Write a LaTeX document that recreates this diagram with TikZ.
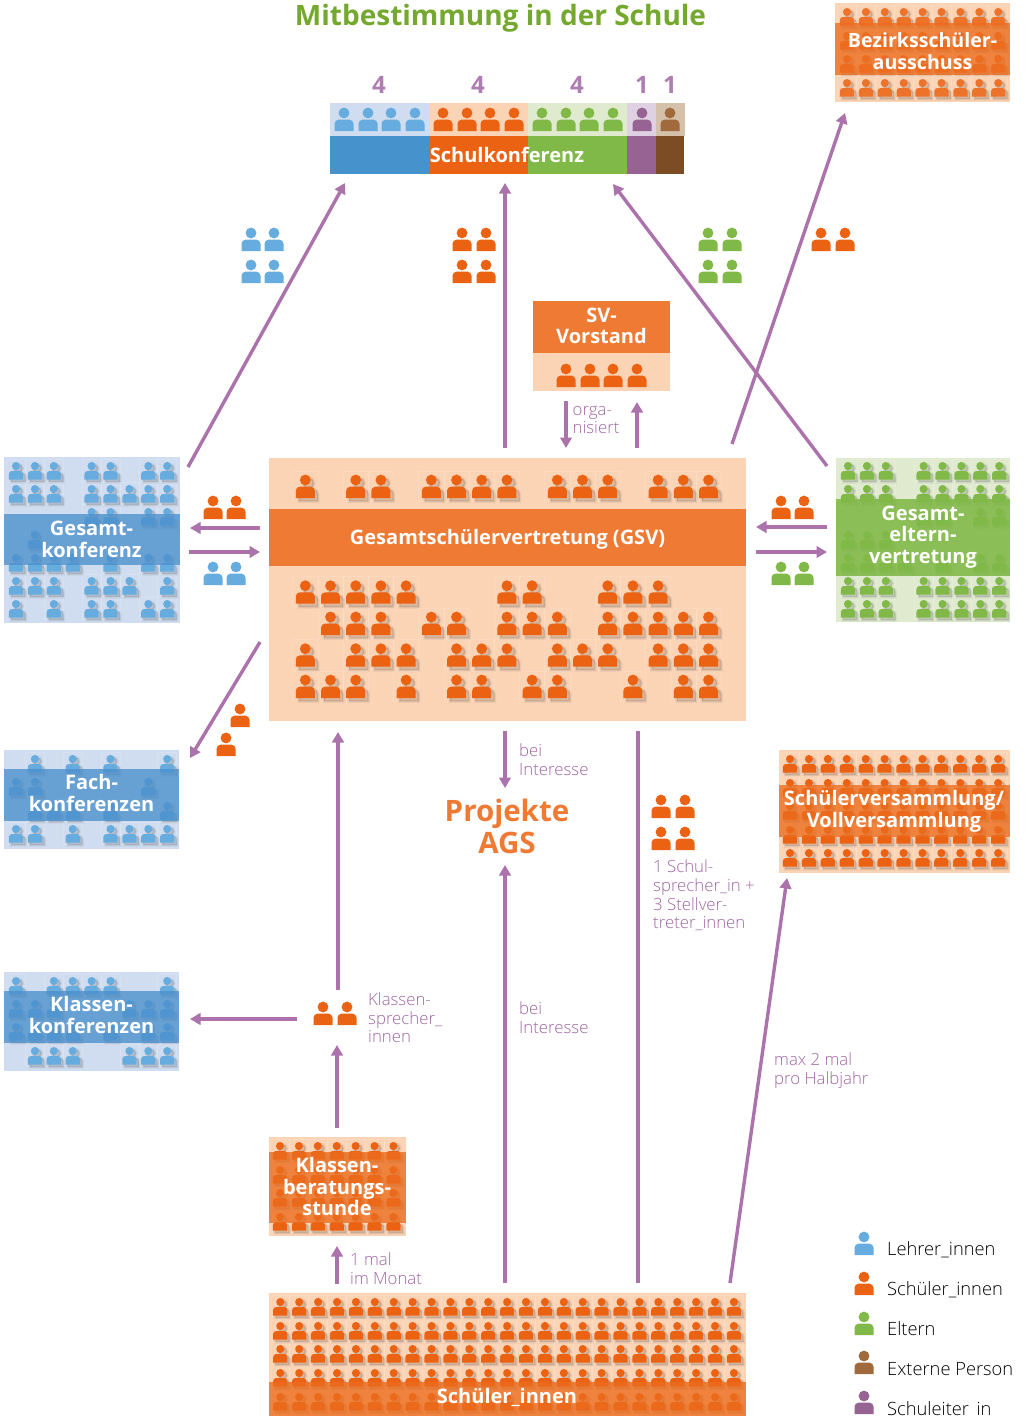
\documentclass[tikz,border=0pt]{standalone}
\usepackage{fontspec}
\setmainfont{Open Sans}
\newfontfamily\lightf{Open Sans Light}
\usetikzlibrary{arrows.meta}
\definecolor{pu}{HTML}{AB72AC}
\definecolor{putext}{HTML}{A066A3}
\definecolor{or}{HTML}{EB6213}
\definecolor{orband}{HTML}{EE7A33}
\definecolor{orover}{HTML}{EC6C1C}
\definecolor{orlight}{HTML}{FBD3B5}
\definecolor{bl}{HTML}{66ACDE}
\definecolor{blband}{HTML}{4A8FCB}
\definecolor{bldark}{HTML}{4592CC}
\definecolor{bllight}{HTML}{D0DDF0}
\definecolor{gr}{HTML}{80B947}
\definecolor{grband}{HTML}{80B947}
\definecolor{grlight}{HTML}{DFEACF}
\definecolor{vi}{HTML}{966392}
\definecolor{vilight}{HTML}{E0D1E2}
\definecolor{br}{HTML}{A06A3C}
\definecolor{brdark}{HTML}{7C4D24}
\definecolor{brlight}{HTML}{D5C0AA}
\definecolor{titlegreen}{HTML}{74A82E}
\def\pshape{(0,0) circle[radius=5.4] (-9.5,18) -- (-9.5,10.7) .. controls (-9.5,8.4) and (-7.6,6.7) .. (-5.5,6.7) -- (5.5,6.7) .. controls (7.6,6.7) and (9.5,8.4) .. (9.5,10.7) -- (9.5,18) -- cycle}
% plain person: x, y of head centre, scale, colour
\newcommand{\person}[4]{\begin{scope}[shift={(#1,#2)},scale=#3]\fill[#4] \pshape;\end{scope}}
% person in a crowd, with soft shadow and a faint cell
\newcommand{\crowdperson}[4]{\begin{scope}[shift={(#1,#2)},scale=#3]
  \draw[white,opacity=.13,line width=.6pt] (-12.6,-9) rectangle (12.6,21);
  \begin{scope}[shift={(3.2,3.2)}]\path[fill=black,draw=black,line width=3.2pt,opacity=.05] \pshape;\path[fill=black,draw=black,line width=1.2pt,opacity=.07] \pshape;\end{scope}
  \fill[#4] \pshape;\end{scope}}
% row: x0, dx, y, scale, colour, list of columns
\newcommand{\crowdrow}[6]{\foreach \cc in {#6}{\pgfmathsetmacro\xx{#1+#2*\cc}\crowdperson{\xx}{#3}{#4}{#5}}}
% rectangle node: name, x1, y1, x2, y2, style
\newcommand{\panel}[6]{\pgfmathsetmacro\pw{#4-#2}\pgfmathsetmacro\ph{#5-#3}\pgfmathsetmacro\pcx{(#2+#4)/2}\pgfmathsetmacro\pcy{(#3+#5)/2}%
  \node[rectangle,inner sep=0pt,outer sep=0pt,minimum width=\pw pt,minimum height=\ph pt,#6] (#1) at (\pcx,\pcy) {};}
\newcommand{\pairs}[4]{\foreach \yy in {#3}{\person{#1}{\yy}{1}{#4}\person{#2}{\yy}{1}{#4}}}
\tikzset{
  flow/.style={draw=pu,line width=3.4pt,-{Triangle[length=10.5pt,width=11.5pt]}},
  plainflow/.style={draw=pu,line width=3.4pt},
  headtext/.style={font=\bfseries\fontsize{20}{21.6}\selectfont,text=white,align=center,inner sep=0pt},
  notetext/.style={font=\lightf\fontsize{16.8}{18.6}\selectfont,text=putext,align=left,anchor=west,inner sep=0pt},
  legendtext/.style={font=\lightf\fontsize{18.3}{18.3}\selectfont,text=black,anchor=west,inner sep=0pt},
  numtext/.style={font=\bfseries\fontsize{24}{24}\selectfont,text=putext!85,inner sep=0pt},
}
\begin{document}
\begin{tikzpicture}[x=1pt,y=-1pt]
\useasboundingbox (0,0) rectangle (1026,1416);
\fill[white] (0,0) rectangle (1026,1416);

% ---------- title
\node[font=\bfseries\fontsize{28}{30}\selectfont,text=titlegreen,inner sep=0pt,anchor=base] (title) at (500.5,25) {Mitbestimmung in der Schule};

% ---------- Schulkonferenz
\panel{skA}{330}{103}{429}{136}{fill=bllight}
\panel{skB}{429}{103}{528}{136}{fill=orlight}
\panel{skC}{528}{103}{627}{136}{fill=grlight}
\panel{skD}{627}{103}{656}{136}{fill=vilight}
\panel{skE}{656}{103}{685}{136}{fill=brlight}
\panel{skF}{330}{136}{429}{174}{fill=bldark}
\panel{skG}{429}{136}{528}{174}{fill=or}
\panel{skH}{528}{136}{627}{174}{fill=gr}
\panel{skI}{627}{136}{656}{174}{fill=vi}
\panel{skJ}{656}{136}{684}{174}{fill=brdark}
\foreach \px in {344,368,391,415}{\person{\px}{113}{1}{bl}}
\foreach \px in {443,467,490,514}{\person{\px}{113}{1}{or}}
\foreach \px in {542,566,589,613}{\person{\px}{113}{1}{gr}}
\person{642}{113}{1}{vi}
\person{670}{113}{1}{br}
\node[headtext] (sk) at (507,155) {Schulkonferenz};
\node[numtext] (n1) at (379,85) {4};
\node[numtext] (n2) at (478,85) {4};
\node[numtext] (n3) at (577,85) {4};
\node[numtext] (n4) at (642,85) {1};
\node[numtext] (n5) at (670,85) {1};

% ---------- Bezirksschuelerausschuss
\panel{bz}{835}{3}{1010}{102}{fill=orlight}
\foreach \ry in {12,36,59,83}{\crowdrow{847}{18.9}{\ry}{.75}{or!85!orlight}{0,...,8}}
\panel{bzb}{835}{23}{1010}{75}{fill=orover,opacity=.78}
\node[headtext,font=\bfseries\fontsize{19.6}{21.8}\selectfont] (bzt) at (922.5,51) {Bezirksschüler-\\ausschuss};

% ---------- SV-Vorstand
\panel{svl}{533}{353}{670}{391}{fill=orlight}
\panel{svb}{533}{301}{670}{353}{fill=orband}
\foreach \px in {566,590,613,637}{\person{\px}{369}{1}{or}}
\node[headtext,font=\bfseries\fontsize{20}{20.6}\selectfont] (svt) at (601.5,326) {SV-\\Vorstand};
\node[notetext] (orga) at (572.5,420) {orga-\\[-.5pt]nisiert};

% ---------- Gesamtkonferenz
\panel{gk}{4}{457}{180}{623}{fill=bllight}
\crowdrow{16}{18.9}{466}{.75}{bl}{0,1,2,4,5,7,8}
\crowdrow{16}{18.9}{489}{.75}{bl}{0,1,2,4,5,6,7,8}
\crowdrow{16}{18.9}{512}{.75}{bl}{4,5,7,8}
\crowdrow{16}{18.9}{535}{.75}{bl}{1}
\crowdrow{16}{18.9}{558}{.75}{bl}{0,1,2,3,5,7,8}
\crowdrow{16}{18.9}{581}{.75}{bl}{0,1,2,4,5,6,8}
\crowdrow{16}{18.9}{604}{.75}{bl}{0,2,4,5,7,8}
\panel{gkb}{4}{514}{180}{565}{fill=blband,opacity=.78}
\node[headtext] (gkt) at (91.5,539.5) {Gesamt-\\konferenz};

% ---------- Fachkonferenzen
\panel{fk}{4}{750}{179}{849}{fill=bllight}
\crowdrow{16}{18.9}{759}{.75}{bl}{1,3,5,8}
\crowdrow{16}{18.9}{782}{.75}{bl}{0,1,7}
\crowdrow{16}{18.9}{806}{.75}{bl}{1,2,3,5,8}
\crowdrow{16}{18.9}{829}{.75}{bl}{0,1,3,5,6,7,8}
\panel{fkb}{4}{769}{179}{821}{fill=blband,opacity=.78}
\node[headtext] (fkt) at (91.5,793) {Fach-\\konferenzen};

% ---------- Klassenkonferenzen
\panel{kk}{4}{972}{179}{1071}{fill=bllight}
\crowdrow{16}{18.9}{981}{.75}{bl}{0,2,3,4,5,8}
\crowdrow{16}{18.9}{1004}{.75}{bl}{0,1,2,6,7,8}
\crowdrow{16}{18.9}{1027}{.75}{bl}{0,1,2,3,5,7,8}
\crowdrow{16}{18.9}{1051}{.75}{bl}{1,2,3,6,7,8}
\panel{kkb}{4}{991}{179}{1043}{fill=blband,opacity=.78}
\node[headtext] (kkt) at (91.5,1015) {Klassen-\\konferenzen};

% ---------- Gesamtelternvertretung
\panel{ge}{836}{458}{1010}{622}{fill=grlight}
\crowdrow{848}{18.9}{466}{.75}{gr}{0,1,2,4,5,6,7,8}
\crowdrow{848}{18.9}{489}{.75}{gr}{0,1,2,4,5,6,7,8}
\crowdrow{848}{18.9}{512}{.75}{gr}{4,5,7,8}
\crowdrow{848}{18.9}{535}{.75}{gr}{0,1,2}
\crowdrow{848}{18.9}{558}{.75}{gr}{0,1,2,3,5,7,8}
\crowdrow{848}{18.9}{581}{.75}{gr}{0,1,2,4,5,6,7,8}
\crowdrow{848}{18.9}{604}{.75}{gr}{0,1,2,4,5,6,7,8}
\panel{geb}{836}{499}{1010}{576}{fill=grband,opacity=.88}
\node[headtext] (get) at (923,537) {Gesamt-\\eltern-\\vertretung};

% ---------- Schuelerversammlung
\panel{sv}{779}{750}{1010}{873}{fill=orlight}
\foreach \ry in {759,783,806,830,853}{\crowdrow{790}{18.92}{\ry}{.75}{or}{0,...,11}}
\panel{svm}{779}{785}{1010}{837}{fill=orover,opacity=.78}
\node[headtext] (svmt) at (894,811) {Schülerversammlung/\\Vollversammlung};

% ---------- GSV
\panel{gsv}{269}{458}{746}{721}{fill=orlight}
\crowdrow{305.3}{25.2}{480}{1}{or}{0,2,3,5,6,7,8,10,11,12,14,15,16}
\crowdrow{305.3}{25.2}{585.7}{1}{or}{0,1,2,3,4,8,9,12,13,14}
\crowdrow{305.3}{25.2}{617}{1}{or}{1,2,3,5,6,8,9,10,12,13,14,15,16}
\crowdrow{305.3}{25.2}{648.7}{1}{or}{0,2,3,4,6,7,8,10,11,12,14,15,16}
\crowdrow{305.3}{25.2}{680}{1}{or}{0,1,2,4,6,7,9,10,13,15,16}
\panel{gsvb}{269}{509}{746}{566}{fill=orband}
\node[headtext] (gsvt) at (507.5,539) {Gesamtschülervertretung (GSV)};

% ---------- Klassenberatungsstunde
\panel{kb}{269}{1137}{406}{1236}{fill=orlight}
\foreach \ry in {1146,1170,1193,1217}{\crowdrow{280}{18.9}{\ry}{.75}{or}{0,...,6}}
\panel{kbb}{269}{1152}{406}{1223}{fill=orover,opacity=.78}
\node[headtext] (kbt) at (337,1186.5) {Klassen-\\beratungs-\\stunde};

% ---------- Schueler_innen
\panel{si}{269}{1293}{746}{1416}{fill=orlight}
\foreach \ry in {1302,1326,1349,1373,1397}{\crowdrow{280.3}{18.9}{\ry}{.75}{or}{0,...,24}}
\panel{sib}{269}{1382}{746}{1416}{fill=orover,opacity=.78}
\node[headtext] (sit) at (507,1397) {Schüler\_innen};

% ---------- delegate icons
\pairs{251}{274}{233,265}{bl}
\pairs{462}{486}{233,265}{or}
\pairs{708}{732}{233,265}{gr}
\pairs{821}{845}{233}{or}
\pairs{213}{236}{501}{or}
\pairs{213}{236}{567}{bl}
\pairs{781}{804}{501}{or}
\pairs{781}{804}{567}{gr}
\person{240}{709}{1}{or}
\person{226}{738}{1}{or}
\pairs{661}{685}{800,832}{or}
\pairs{323}{347}{1007}{or}

% ---------- connector ends
\coordinate (gkTop) at (188,467);
\coordinate (skL) at (345,183);
\coordinate (gsvTop) at (505,448);
\coordinate (skM) at (505,183);
\coordinate (geTop) at (827,466);
\coordinate (skR) at (613,184);
\coordinate (gsvTopR) at (732,444);
\coordinate (bzBot) at (845,113);
\coordinate (orgaT) at (566,401);
\coordinate (orgaB) at (566,448);
\coordinate (orgbB) at (637,448);
\coordinate (orgbT) at (637,402);
\coordinate (gsvL1) at (260,528);
\coordinate (gkR1) at (190,528);
\coordinate (gkR2) at (189,552);
\coordinate (gsvL2) at (260,552);
\coordinate (geL1) at (827,527);
\coordinate (gsvR1) at (756,527);
\coordinate (gsvR2) at (756,552);
\coordinate (geL2) at (827,552);
\coordinate (gsvDL) at (260,642);
\coordinate (fkTR) at (190,758);
\coordinate (gsvBot) at (505,731);
\coordinate (pjTop) at (505,788);
\coordinate (siTopM) at (505,1283);
\coordinate (pjBot) at (505,865);
\coordinate (siTopR) at (638,1283);
\coordinate (gsvBotR) at (638,731);
\coordinate (siTopF) at (730,1283);
\coordinate (svBot) at (787,878);
\coordinate (ksA) at (338,990);
\coordinate (gsvBotL) at (338,732);
\coordinate (ksB) at (297,1019);
\coordinate (kkR) at (190,1019);
\coordinate (kbTop) at (337,1128);
\coordinate (ksC) at (337,1045);
\coordinate (siTopL) at (337,1284);
\coordinate (kbBot) at (337,1246);

% ---------- connectors
\draw[flow] (gkTop) -- (skL);
\draw[flow] (gsvTop) -- (skM);
\draw[flow] (geTop) -- (skR);
\draw[flow] (gsvTopR) -- (bzBot);
\draw[flow] (orgaT) -- (orgaB);
\draw[flow] (orgbB) -- (orgbT);
\draw[flow] (gsvL1) -- (gkR1);
\draw[flow] (gkR2) -- (gsvL2);
\draw[flow] (geL1) -- (gsvR1);
\draw[flow] (gsvR2) -- (geL2);
\draw[flow] (gsvDL) -- (fkTR);
\draw[flow] (gsvBot) -- (pjTop);
\draw[flow] (siTopM) -- (pjBot);
\draw[plainflow] (siTopR) -- (gsvBotR);
\draw[flow] (siTopF) -- (svBot);
\draw[flow] (ksA) -- (gsvBotL);
\draw[flow] (ksB) -- (kkR);
\draw[flow] (kbTop) -- (ksC);
\draw[flow] (siTopL) -- (kbBot);

% ---------- free text
\node[font=\bfseries\fontsize{29.5}{32}\selectfont,text=orband,align=center,inner sep=0pt] (pj) at (507,826) {Projekte\\AGS};
\node[notetext] (bi1) at (519,759.5) {bei\\[1pt]Interesse};
\node[notetext] (bi2) at (519,1017.5) {bei\\Interesse};
\node[notetext] (ss) at (653,895.5) {1 Schul-\\sprecher\_in +\\3 Stellver-\\treter\_innen};
\node[notetext] (ksp) at (368,1018) {Klassen-\\sprecher\_\\innen};
\node[notetext] (mx) at (774,1070.5) {max 2 mal\\pro Halbjahr};
\node[notetext] (mm) at (350,1268.5) {1 mal\\im Monat};

% ---------- legend
\person{864}{1237}{1}{bl}
\person{864}{1277}{1}{or}
\person{864}{1317}{1}{gr}
\person{864}{1356}{1}{br}
\person{864}{1396}{1}{vi}
\node[legendtext] (l1) at (887,1249.5) {Lehrer\_innen};
\node[legendtext] (l2) at (887,1289.5) {Schüler\_innen};
\node[legendtext] (l3) at (887,1329) {Eltern};
\node[legendtext] (l4) at (887,1369.5) {Externe Person};
\node[legendtext] (l5) at (887,1409.5) {Schuleiter\_in};
\end{tikzpicture}
\end{document}
